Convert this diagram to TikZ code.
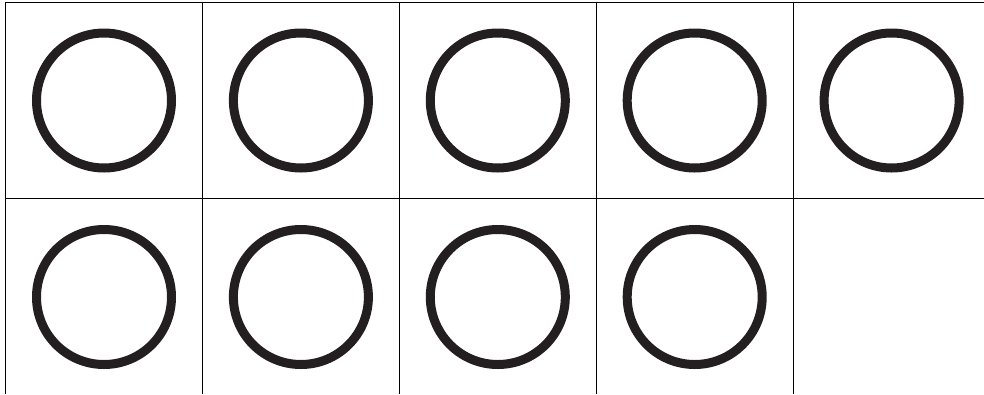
\documentclass[tikz,border=0pt]{standalone}
\begin{document}
\begin{tikzpicture}[x=1pt,y=-1pt,
  gridline/.style={line width=1pt,black},
  ring/.style={circle,draw=ringcol,line width=9pt,minimum size=135pt,inner sep=0pt}]
\definecolor{ringcol}{HTML}{231F20}
\useasboundingbox (0,0) rectangle (984,394);
% grid lines
\draw[gridline] (5.5,394) -- (5.5,2.7) -- (984,2.7);
\draw[gridline] (5.5,198.8) -- (984,198.8);
\foreach \i in {1,2,3,4}{
  \draw[gridline] ({5.5+196.9*\i},2.7) -- ({5.5+196.9*\i},394);
}
% rings
\foreach \i in {0,...,4}{
  \node[ring] (r1c\i) at ({104+196.9*\i},100.5) {};
}
\foreach \i in {0,...,3}{
  \node[ring] (r2c\i) at ({104+196.9*\i},297) {};
}
\end{tikzpicture}
\end{document}
